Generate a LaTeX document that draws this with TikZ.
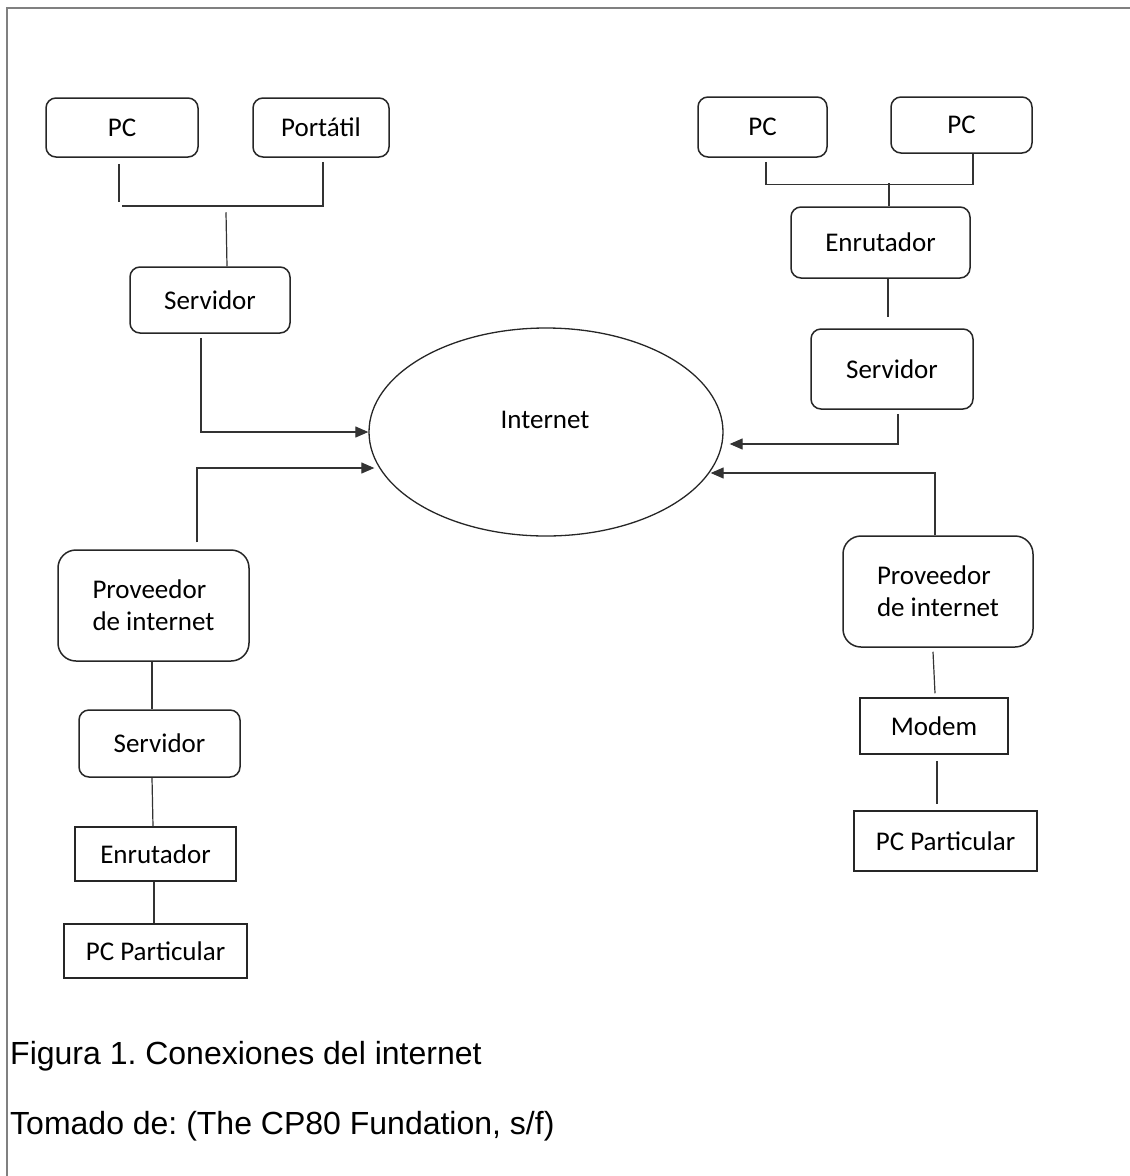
\documentclass[tikz,border=0pt]{standalone}
\usepackage{fontspec}
\setmainfont{Carlito}
\newfontfamily\arialfont{Liberation Sans}
\usetikzlibrary{shapes.geometric,arrows.meta}
\frenchspacing
\tikzset{unit box/.style={
        draw=black!85, line width=1.5pt, inner sep=0pt,
        minimum width=#1
    },
    round box/.style={unit box=#1, rounded corners=10pt},
    link/.style={draw=black!80, line width=1.2pt},
    feed/.style={link, -{Triangle[length=13pt,width=11pt]}}
}

\begin{document}
\begin{tikzpicture}[x=1pt, y=-1pt, every node/.append style={font=\fontsize{27}{32}\selectfont}]
        \useasboundingbox (0,0) rectangle (1130,1176);
        % frame
        \draw[gray, line width=1.5pt] (7,1176) -- (7,8) -- (1130,8);
        % cloud
        \node[ellipse, draw=black!85, line width=1.3pt, minimum width=354pt, minimum height=208pt] (net) at (546,432) {};
        \node (netlbl) at (545,420) {Internet};
        % top left group
        \node[round box=152pt, minimum height=59pt] (pcA) at (122,127.5) {PC};
        \node[round box=136pt, minimum height=59pt] (lapA) at (321,127.5) {Portátil};
        \node[round box=160pt, minimum height=66pt] (srvA) at (210,300) {Servidor};
        \coordinate (busA) at (122,206);
        \draw[link] ([xshift=-3pt,yshift=-6pt]pcA.south) -- ++(0,38);
        \draw[link] ([xshift=2pt,yshift=-4pt]lapA.south) |- (busA);
        \draw[link] ([xshift=17pt]srvA.north) -- ([xshift=16pt,yshift=54pt]srvA.north);
        % top right group
        \node[round box=129pt, minimum height=60pt] (pcB) at (762.5,127) {PC};
        \node[round box=141pt, minimum height=56pt] (pcC) at (961.5,125) {PC};
        \node[round box=179pt, minimum height=71pt] (rtrB) at (880.5,242.5) {Enrutador};
        \node[round box=162pt, minimum height=80pt] (srvB) at (892,369) {Servidor};
        \draw[link] ([xshift=3.5pt,yshift=-4pt]pcB.south) |- ([xshift=11.5pt,yshift=-31pt]pcC.south) -- ([xshift=11.5pt]pcC.south);
        \draw[link] ([xshift=8.5pt]rtrB.north) -- ++(0,-23);
        \draw[link] ([xshift=7.5pt]rtrB.south) -- ([xshift=-4pt,yshift=11pt]srvB.north);
        % bottom left chain
        \node[unit box=191pt, rounded corners=18pt, minimum height=111pt, align=left] (ispC) at (153.5,605.5) {Proveedor\\de internet};
        \node[round box=161pt, minimum height=67pt] (srvC) at (159.5,743.5) {Servidor};
        \node[unit box=161pt, minimum height=54pt] (rtrC) at (155.5,854) {Enrutador};
        \node[unit box=183pt, minimum height=54pt] (homeC) at (155.5,951) {PC Particular};
        \draw[link] ([xshift=-1.5pt]ispC.south) -- ([xshift=-7.5pt]srvC.north);
        \draw[link] ([xshift=-7.5pt]srvC.south) -- ([xshift=-2.5pt]rtrC.north);
        \draw[link] ([xshift=-1.5pt]rtrC.south) -- ([xshift=-1.5pt]homeC.north);
        % bottom right chain
        \node[unit box=190pt, rounded corners=18pt, minimum height=111pt, align=left] (ispD) at (938,591.5) {Proveedor\\de internet};
        \node[unit box=148pt, minimum height=56pt] (modD) at (934,726) {Modem};
        \node[unit box=183pt, minimum height=60pt] (homeD) at (945.5,841) {PC Particular};
        \draw[link] ([xshift=-5pt,yshift=-4pt]ispD.south) -- ([xshift=1pt,yshift=4pt]modD.north);
        \draw[link] ([xshift=3pt,yshift=-6pt]modD.south) -- ([xshift=-8.5pt,yshift=6pt]homeD.north);
        % links to the cloud
        \draw[feed] ([xshift=-9pt,yshift=-4pt]srvA.south) |- (net.west);
        \draw[feed] ([xshift=43.5pt,yshift=7pt]ispC.north) |- ([xshift=6pt,yshift=-36pt]net.west);
        \draw[feed] ([xshift=6pt,yshift=-4pt]srvB.south) |- ([xshift=6pt,yshift=-12pt]net.east);
        \draw[feed] ([xshift=-3pt]ispD.north) |- ([xshift=-13pt,yshift=-41pt]net.east);
        % caption
        \node[anchor=base west, inner sep=0pt, font=\arialfont\fontsize{32}{38}\selectfont] (capA) at (10,1064) {Figura 1. Conexiones del internet};
        \node[anchor=base west, inner sep=0pt, font=\arialfont\fontsize{32}{38}\selectfont] (capB) at (10,1134) {Tomado de: (The CP80 Fundation, s/f)};
    \end{tikzpicture}
\end{document}
